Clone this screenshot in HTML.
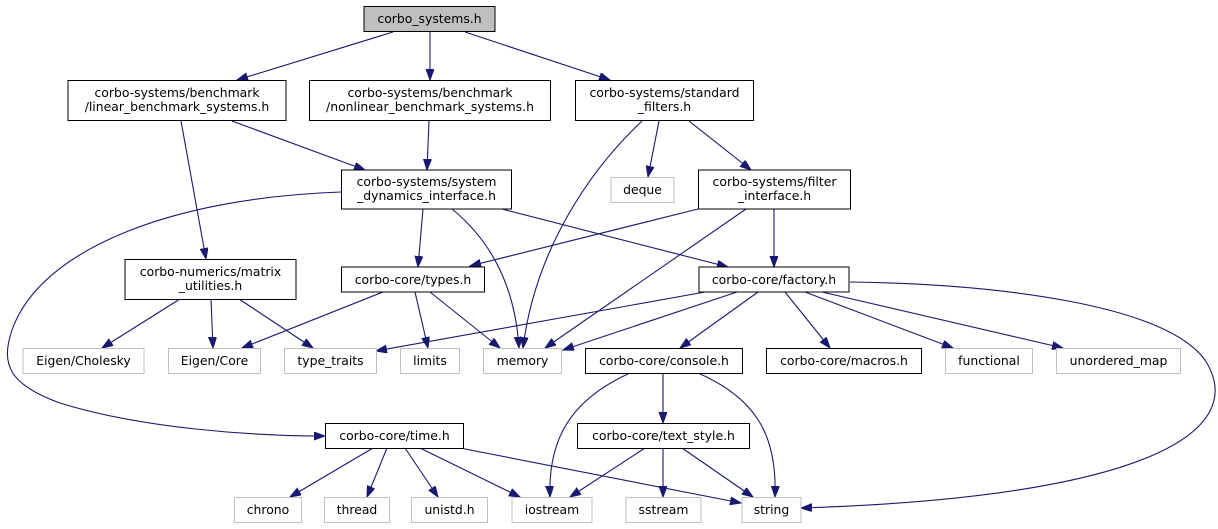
<!DOCTYPE html>
<html><head><meta charset="utf-8"><style>
html,body{margin:0;padding:0;background:#fff;}
svg{display:block;}
text{font-family:"DejaVu Sans","Liberation Sans",sans-serif;font-size:12.4px;fill:#000;text-anchor:middle;}
.n{fill:#fff;stroke:#000;stroke-width:1;}
.g{fill:#fff;stroke:#bfbfbf;stroke-width:1;}
.e{fill:none;stroke:#191970;stroke-width:1.1;marker-end:url(#a);}
</style></head><body>
<svg width="1218" height="529" viewBox="0 0 1218 529" xmlns="http://www.w3.org/2000/svg">
<defs>
<marker id="a" markerUnits="userSpaceOnUse" markerWidth="12" markerHeight="10" refX="11" refY="4" orient="auto">
<path d="M0,0 L11,4 L0,8 z" fill="#191970" stroke="#191970"/>
</marker>
</defs>
<!-- edges -->
<path class="e" d="M393,32 L237,80"/>
<path class="e" d="M430,32 L430,80"/>
<path class="e" d="M465,32 L610,80"/>
<path class="e" d="M181,121 L206,259"/>
<path class="e" d="M232,121 L365,170"/>
<path class="e" d="M429,121 L427,170"/>
<path class="e" d="M642,121 C590,170 535,250 523,348"/>
<path class="e" d="M659,121 L648,177"/>
<path class="e" d="M689,121 L751,170"/>
<path class="e" d="M341,192 C170,198 40,250 12,330 C0,365 10,385 60,403 C140,428 250,436 325,436"/>
<path class="e" d="M423,209 L418,267"/>
<path class="e" d="M452,209 C490,240 515,285 519,348"/>
<path class="e" d="M502,209 L728,267"/>
<path class="e" d="M698,209 L470,266"/>
<path class="e" d="M746,209 L545,348"/>
<path class="e" d="M774,209 L774,267"/>
<path class="e" d="M180,299 L102,348"/>
<path class="e" d="M211,299 L213,348"/>
<path class="e" d="M239,299 L313,348"/>
<path class="e" d="M383,292 L242,348"/>
<path class="e" d="M415,292 L428,348"/>
<path class="e" d="M430,292 L500,348"/>
<path class="e" d="M705,292 L376,351"/>
<path class="e" d="M737,292 L563,350"/>
<path class="e" d="M758,292 L680,348"/>
<path class="e" d="M785,292 L830,348"/>
<path class="e" d="M805,292 L953,348"/>
<path class="e" d="M822,292 L1063,348"/>
<path class="e" d="M850,282 C1000,284 1165,305 1205,360 C1250,430 1150,497 801,508"/>
<path class="e" d="M630,373 C570,400 548,440 550,497"/>
<path class="e" d="M663,373 L663,423"/>
<path class="e" d="M698,373 C760,400 777,440 775,497"/>
<path class="e" d="M373,448 L290,497"/>
<path class="e" d="M387,448 L367,497"/>
<path class="e" d="M405,448 L438,497"/>
<path class="e" d="M420,448 L520,497"/>
<path class="e" d="M460,448 L741,503"/>
<path class="e" d="M645,448 L570,497"/>
<path class="e" d="M663,448 L663,497"/>
<path class="e" d="M682,448 L753,497"/>
<!-- nodes -->
<rect x="364" y="6.5" width="131" height="25" fill="#bfbfbf" stroke="#000"/>
<text x="429.5" y="23">corbo_systems.h</text>

<rect class="n" x="68" y="80.5" width="218" height="40"/>
<text x="177" y="97">corbo-systems/benchmark</text><text x="177" y="111">/linear_benchmark_systems.h</text>
<rect class="n" x="309.5" y="80.5" width="241" height="40"/>
<text x="430" y="97">corbo-systems/benchmark</text><text x="430" y="111">/nonlinear_benchmark_systems.h</text>
<rect class="n" x="575.5" y="80.5" width="178" height="40"/>
<text x="664.5" y="97">corbo-systems/standard</text><text x="664.5" y="111">_filters.h</text>

<rect class="n" x="341.5" y="170" width="170" height="39"/>
<text x="426.5" y="186">corbo-systems/system</text><text x="426.5" y="200">_dynamics_interface.h</text>
<rect class="g" x="611" y="177.5" width="63" height="25"/>
<text x="642.5" y="194">deque</text>
<rect class="n" x="698.5" y="170" width="152" height="39"/>
<text x="774.5" y="186">corbo-systems/filter</text><text x="774.5" y="200">_interface.h</text>

<rect class="n" x="125" y="259.5" width="171" height="40"/>
<text x="210.5" y="276">corbo-numerics/matrix</text><text x="210.5" y="290">_utilities.h</text>
<rect class="n" x="341.5" y="267" width="143" height="25"/>
<text x="413" y="284">corbo-core/types.h</text>
<rect class="n" x="699" y="267" width="150" height="25"/>
<text x="774" y="284">corbo-core/factory.h</text>

<rect class="g" x="23" y="348.5" width="121" height="25"/>
<text x="83.5" y="365">Eigen/Cholesky</text>
<rect class="g" x="168.5" y="348.5" width="92" height="25"/>
<text x="214.5" y="365">Eigen/Core</text>
<rect class="g" x="284.5" y="348.5" width="92" height="25"/>
<text x="330.5" y="365">type_traits</text>
<rect class="g" x="400.5" y="348.5" width="59" height="25"/>
<text x="430" y="365">limits</text>
<rect class="g" x="483.5" y="348.5" width="78" height="25"/>
<text x="522.5" y="365">memory</text>
<rect class="n" x="585.5" y="348.5" width="157" height="25"/>
<text x="664" y="365">corbo-core/console.h</text>
<rect class="n" x="766.5" y="348.5" width="155" height="25"/>
<text x="844" y="365">corbo-core/macros.h</text>
<rect class="g" x="945.5" y="348.5" width="87" height="25"/>
<text x="989" y="365">functional</text>
<rect class="g" x="1056.5" y="348.5" width="124" height="25"/>
<text x="1118.5" y="365">unordered_map</text>

<rect class="n" x="325.5" y="423.5" width="138" height="25"/>
<text x="394.5" y="440">corbo-core/time.h</text>
<rect class="n" x="577.5" y="423.5" width="172" height="25"/>
<text x="663.5" y="440">corbo-core/text_style.h</text>

<rect class="g" x="234.5" y="497.5" width="67" height="25"/>
<text x="268" y="514">chrono</text>
<rect class="g" x="324.5" y="497.5" width="65" height="25"/>
<text x="357" y="514">thread</text>
<rect class="g" x="411.5" y="497.5" width="76" height="25"/>
<text x="449.5" y="514">unistd.h</text>
<rect class="g" x="512" y="497.5" width="80" height="25"/>
<text x="552" y="514">iostream</text>
<rect class="g" x="626" y="497.5" width="75" height="25"/>
<text x="663.5" y="514">sstream</text>
<rect class="g" x="742" y="497.5" width="59" height="25"/>
<text x="771.5" y="514">string</text>
</svg>
</body></html>
